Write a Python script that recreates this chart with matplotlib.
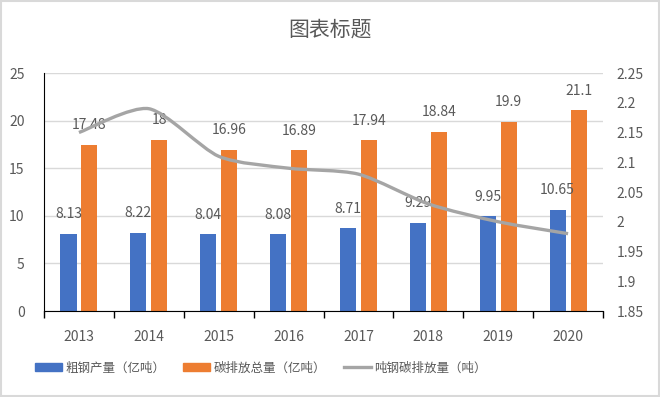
import numpy as np
import matplotlib.pyplot as plt
from matplotlib.path import Path
from matplotlib.patches import PathPatch, Rectangle
from matplotlib.lines import Line2D
from matplotlib.patches import Patch

plt.rcParams['font.family'] = ['Noto Sans CJK SC', 'DejaVu Sans']

# 数据
years = ['2013', '2014', '2015', '2016', '2017', '2018', '2019', '2020']
steel = [8.13, 8.22, 8.04, 8.08, 8.71, 9.29, 9.95, 10.65]          # 粗钢产量（亿吨）
carbon = [17.48, 18, 16.96, 16.89, 17.94, 18.84, 19.9, 21.1]       # 碳排放总量（亿吨）
per_ton = [2.15, 2.19, 2.11, 2.09, 2.08, 2.03, 2.00, 1.98]         # 吨钢碳排放量（吨）

c_blue = '#4472c4'
c_orange = '#ed7d31'
c_gray = '#a5a5a5'
c_text = '#595959'

fig = plt.figure(figsize=(6.6, 3.97), dpi=100)
ax = fig.add_axes([0.0667, 0.2166, 0.847, 0.5995])
ax2 = ax.twinx()

x = np.arange(len(years))
w = 0.23
ax.bar(x - 0.15, steel, w, color=c_blue, zorder=2)
ax.bar(x + 0.15, carbon, w, color=c_orange, zorder=2)

for xi, v in zip(x, steel):
    ax.annotate(f'{v:g}', (xi - 0.15, v), xytext=(0, 9), textcoords='offset points',
                ha='center', va='bottom', fontsize=10, color=c_text, zorder=5)
for xi, v in zip(x, carbon):
    ax.annotate(f'{v:g}', (xi + 0.15, v), xytext=(0, 9), textcoords='offset points',
                ha='center', va='bottom', fontsize=10, color=c_text, zorder=5)

# 平滑折线 (Catmull-Rom -> Bezier)
pts = np.column_stack([x, per_ton]).astype(float)
ext = np.vstack([pts[0], pts, pts[-1]])
verts = [tuple(pts[0])]
codes = [Path.MOVETO]
k = 1 / 8
for i in range(len(pts) - 1):
    p0, p1, p2, p3 = ext[i], ext[i + 1], ext[i + 2], ext[i + 3]
    c1 = p1 + (p2 - p0) * k
    c2 = p2 - (p3 - p1) * k
    verts += [tuple(c1), tuple(c2), tuple(p2)]
    codes += [Path.CURVE4] * 3
ax2.add_patch(PathPatch(Path(verts, codes), fill=False, edgecolor=c_gray, lw=2.4,
                        capstyle='butt', zorder=3))

ax.set_xlim(-0.5, len(years) - 0.5)
ax.set_ylim(0, 25)
ax.set_yticks(range(0, 26, 5))
ax2.set_ylim(1.85, 2.25)
ax2.set_yticks([1.85, 1.9, 1.95, 2, 2.05, 2.1, 2.15, 2.2, 2.25])
ax2.set_yticklabels(['1.85', '1.9', '1.95', '2', '2.05', '2.1', '2.15', '2.2', '2.25'])

ax.grid(axis='y', color='#d9d9d9', lw=1, zorder=0)
ax.set_axisbelow(True)
for s in ['top', 'right']:
    ax.spines[s].set_visible(False)
for s in ['top', 'right', 'left', 'bottom']:
    ax2.spines[s].set_visible(False)
ax.spines['left'].set_color('black')
ax.spines['bottom'].set_color('black')

ax.set_xticks(x)
ax.set_xticklabels(years)
ax.set_xticks(np.arange(-0.5, len(years), 1), minor=True)
ax.tick_params(axis='x', which='major', length=0, pad=14, labelsize=10, labelcolor=c_text)
ax.tick_params(axis='x', which='minor', length=5, width=1, color='black', direction='out')
ax.tick_params(axis='y', length=0, pad=14, labelsize=10, labelcolor=c_text)
ax2.tick_params(axis='y', length=0, pad=10, labelsize=10, labelcolor=c_text)

fig.text(0.5, 0.925, '图表标题', ha='center', va='center', fontsize=15, color=c_text)

handles = [Patch(color=c_blue), Patch(color=c_orange), Line2D([], [], color=c_gray, lw=2.4)]
labels = ['粗钢产量（亿吨）', '碳排放总量（亿吨）', '吨钢碳排放量（吨）']
fig.legend(handles, labels, loc='center', bbox_to_anchor=(0.395, 0.073), ncol=3,
           frameon=False, fontsize=9, labelcolor=c_text, handlelength=2.2,
           handleheight=0.55, handletextpad=0.25, columnspacing=1.4)

fig.add_artist(Rectangle((0.002, 0.003), 0.996, 0.994, transform=fig.transFigure,
                         fill=False, edgecolor='#d9d9d9', lw=1.5))

fig.savefig('out.png', dpi=100)
